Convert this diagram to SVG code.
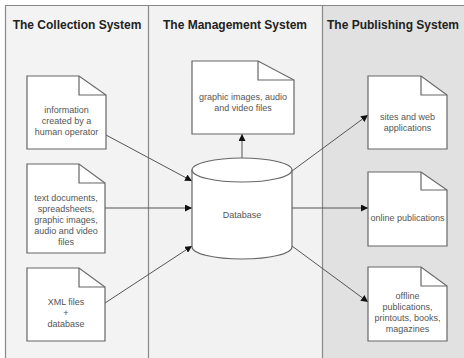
<svg xmlns="http://www.w3.org/2000/svg" width="464" height="358" viewBox="0 0 464 358">
<defs>
<style>
.hdr{font-family:"Liberation Sans",Arial,sans-serif;font-size:12px;font-weight:bold;fill:#222;text-anchor:middle}
.t{font-family:"Liberation Sans",Arial,sans-serif;font-size:9px;fill:#555;text-anchor:middle}
.doc{fill:#fff;stroke:#666;stroke-width:1.2}
.fold{fill:none;stroke:#666;stroke-width:1.2}
.con{stroke:#555;stroke-width:1;fill:none;marker-end:url(#ah)}
</style>
<marker id="ah" viewBox="0 0 10 10" refX="10" refY="5" markerWidth="7" markerHeight="7" markerUnits="userSpaceOnUse" orient="auto">
<path d="M0,0 L10,5 L0,10 Z" fill="#111"/>
</marker>
</defs>
<rect x="0" y="0" width="464" height="358" fill="#fff"/>
<g id="lanes">
<rect x="5" y="5" width="143" height="353" fill="#f3f3f3"/>
<rect x="148" y="5" width="174" height="353" fill="#f2f2f2"/>
<rect x="322" y="5" width="142" height="353" fill="#e1e1e1"/>
<path d="M5.5,358 V5.5 H464 M148.5,5.5 V358 M322.5,5.5 V358" fill="none" stroke="#888" stroke-width="1.2"/>
<text class="hdr" x="77" y="29">The Collection System</text>
<text class="hdr" x="235" y="29">The Management System</text>
<text class="hdr" x="393" y="29">The Publishing System</text>
</g>
<g id="connectors">
<line class="con" x1="106" y1="135" x2="192" y2="181"/>
<line class="con" x1="105" y1="208" x2="192" y2="208"/>
<line class="con" x1="105" y1="303" x2="192" y2="246"/>
<line class="con" x1="242" y1="158" x2="242" y2="134"/>
<line class="con" x1="292" y1="171" x2="368" y2="115"/>
<line class="con" x1="292" y1="208" x2="368" y2="208"/>
<line class="con" x1="292" y1="246" x2="368" y2="302"/>
</g>
<g id="doc-human">
<path class="doc" d="M27,76 H79 L106,95 V149 H27 Z"/>
<path class="fold" d="M79,76 V95 H106"/>
<text class="t" x="66.5" y="113">information</text>
<text class="t" x="66.5" y="124">created by a</text>
<text class="t" x="66.5" y="135">human operator</text>
</g>
<g id="doc-text">
<path class="doc" d="M27,164 H79 L105,183 V253 H27 Z"/>
<path class="fold" d="M79,164 V183 H105"/>
<text class="t" x="66" y="201">text documents,</text>
<text class="t" x="66" y="212">spreadsheets,</text>
<text class="t" x="66" y="223">graphic images,</text>
<text class="t" x="66" y="234">audio and video</text>
<text class="t" x="66" y="245">files</text>
</g>
<g id="doc-xml">
<path class="doc" d="M27,268 H79 L105,287 V341 H27 Z"/>
<path class="fold" d="M79,268 V287 H105"/>
<text class="t" x="66" y="305">XML files</text>
<text class="t" x="66" y="316">+</text>
<text class="t" x="66" y="327">database</text>
</g>
<g id="doc-media">
<path class="doc" d="M192,61 H258 L294,80 V134 H192 Z"/>
<path class="fold" d="M258,61 V80 H294"/>
<text class="t" x="243" y="100">graphic images, audio</text>
<text class="t" x="243" y="111">and video files</text>
</g>
<g id="database">
<path d="M192,170 V247 A50,12 0 0 0 292,247 V170" fill="#fff" stroke="#666" stroke-width="1.2"/>
<ellipse cx="242" cy="170" rx="50" ry="12" fill="#fff" stroke="#666" stroke-width="1.2"/>
<text class="t" x="242" y="218">Database</text>
</g>
<g id="doc-sites">
<path class="doc" d="M368,76 H421 L447,95 V149 H368 Z"/>
<path class="fold" d="M421,76 V95 H447"/>
<text class="t" x="407.5" y="120">sites and web</text>
<text class="t" x="407.5" y="131">applications</text>
</g>
<g id="doc-online">
<path class="doc" d="M368,172 H421 L447,190 V246 H368 Z"/>
<path class="fold" d="M421,172 V190 H447"/>
<text class="t" x="407.5" y="221">online publications</text>
</g>
<g id="doc-offline">
<path class="doc" d="M368,267 H421 L447,286 V341 H368 Z"/>
<path class="fold" d="M421,267 V286 H447"/>
<text class="t" x="407.5" y="299">offline</text>
<text class="t" x="407.5" y="310">publications,</text>
<text class="t" x="407.5" y="321">printouts, books,</text>
<text class="t" x="407.5" y="332">magazines</text>
</g>
</svg>
